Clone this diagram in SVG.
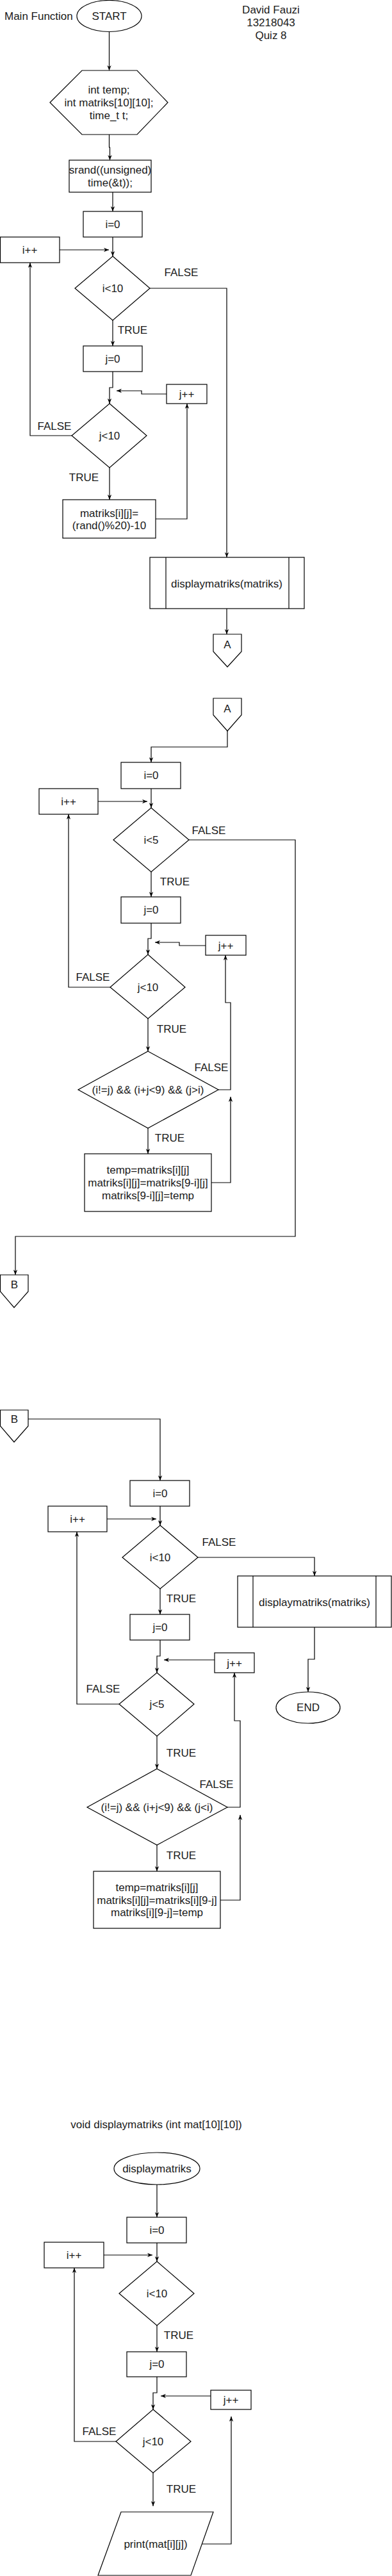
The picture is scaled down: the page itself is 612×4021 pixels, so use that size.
<svg xmlns="http://www.w3.org/2000/svg" width="612" height="4021" viewBox="0 0 612 4021">
<style>
.s{fill:#fff;stroke:#000;stroke-width:1.2}
.i{fill:none;stroke:#000;stroke-width:1.2}
.c{fill:none;stroke:#000;stroke-width:1.2;marker-end:url(#arr)}
text{font-family:"Liberation Sans",Arial,sans-serif;font-size:17px;fill:#1a1a1a;text-anchor:middle}
.l{text-anchor:start}
</style>
<defs>
<marker id="arr" viewBox="0 0 10 10" refX="10" refY="5" markerWidth="8" markerHeight="8" markerUnits="userSpaceOnUse" orient="auto"><path d="M0,1 L10,5 L0,9 L3,5 z" fill="#000"/></marker>
</defs>
<rect width="612" height="4021" fill="#fff"/>

<g id="connectors">
<path class="c" d="M170.5,49.5 V110"/>
<path class="c" d="M170.5,210 V230 H171.5 V250"/>
<path class="c" d="M176,300 V330"/>
<path class="c" d="M176,370 V400"/>
<path class="c" d="M93,390 H170"/>
<path class="c" d="M234,450 H354 V870"/>
<path class="c" d="M176,500 V540"/>
<path class="c" d="M176,580 V605 H171 V630"/>
<path class="c" d="M260,615 H221 V610 H182"/>
<path class="c" d="M112,680 H47 V410"/>
<path class="c" d="M171,730 V780"/>
<path class="c" d="M243,810 H292 V630"/>
<path class="c" d="M354,950 V990"/>
<path class="c" d="M355,1141 V1166 H236 V1190"/>
<path class="c" d="M236,1231 V1261"/>
<path class="c" d="M153,1251 H230"/>
<path class="c" d="M295,1311 H461 V1930 H24 V1990"/>
<path class="c" d="M236,1361 V1400"/>
<path class="c" d="M236,1441 V1465 H231 V1490"/>
<path class="c" d="M321,1476 H280 V1471 H242"/>
<path class="c" d="M172,1541 H107 V1271"/>
<path class="c" d="M231,1590 V1641"/>
<path class="c" d="M341,1701 H360 V1565 H352 V1491"/>
<path class="c" d="M231,1761 V1801"/>
<path class="c" d="M330,1846 H360 V1712"/>
<path class="c" d="M38,2215 H250 V2311"/>
<path class="c" d="M250,2351 V2381"/>
<path class="c" d="M167,2371 H244"/>
<path class="c" d="M309,2431 H491 V2460"/>
<path class="c" d="M491,2540 V2590 H481 V2641"/>
<path class="c" d="M250,2480 V2520"/>
<path class="c" d="M250,2560 V2585 H245 V2611"/>
<path class="c" d="M335,2591 H256"/>
<path class="c" d="M186,2660 H120 V2391"/>
<path class="c" d="M245,2710 V2761"/>
<path class="c" d="M355,2821 H375 V2686 H366 V2611"/>
<path class="c" d="M245,2880 V2921"/>
<path class="c" d="M344,2966 H375 V2833"/>
<path class="c" d="M245,3410 V3461"/>
<path class="c" d="M245,3501 V3530"/>
<path class="c" d="M162,3520 H238"/>
<path class="c" d="M245,3630 V3671"/>
<path class="c" d="M245,3710 V3735 H239 V3761"/>
<path class="c" d="M329,3740 H251"/>
<path class="c" d="M181,3811 H116 V3540"/>
<path class="c" d="M239,3860 V3912"/>
<path class="c" d="M315,3971 H361 V3772"/>
</g>

<g id="labels">
<text x="283" y="431">FALSE</text>
<text x="207" y="521">TRUE</text>
<text x="85" y="671">FALSE</text>
<text x="131" y="751">TRUE</text>
<text x="326" y="1302">FALSE</text>
<text x="273" y="1382">TRUE</text>
<text x="145" y="1531">FALSE</text>
<text x="268" y="1612">TRUE</text>
<text x="330" y="1672">FALSE</text>
<text x="265" y="1782">TRUE</text>
<text x="342" y="2413">FALSE</text>
<text x="283" y="2501">TRUE</text>
<text x="161" y="2642">FALSE</text>
<text x="283" y="2742">TRUE</text>
<text x="338" y="2791">FALSE</text>
<text x="283" y="2902">TRUE</text>
<text x="279" y="3651">TRUE</text>
<text x="155" y="3801">FALSE</text>
<text x="283" y="3891">TRUE</text>
</g>

<g id="title-main"><text class="l" x="7" y="31">Main Function</text></g>
<g id="author"><text x="423" y="21">David Fauzi</text><text x="423" y="41">13218043</text><text x="423" y="61">Quiz 8</text></g>

<g id="start"><ellipse class="s" cx="170.5" cy="25" rx="50.5" ry="24.5"/><text x="170.5" y="31">START</text></g>
<g id="decl"><polygon class="s" points="78,160 128,110 214,110 262,160 214,210 128,210"/><text x="170" y="146">int temp;</text><text x="170" y="166">int matriks[10][10];</text><text x="170" y="186">time_t t;</text></g>
<g id="srand"><rect class="s" x="108" y="250" width="128" height="50"/><text x="172" y="271">srand((unsigned)</text><text x="172" y="291">time(&amp;t));</text></g>
<g id="s1-i0"><rect class="s" x="130" y="330" width="92" height="40"/><text x="176" y="356">i=0</text></g>
<g id="s1-iinc"><rect class="s" x="0.5" y="370" width="92.5" height="40"/><text x="46.5" y="396">i++</text></g>
<g id="s1-icond"><polygon class="s" points="176,400 234,450 176,500 117,450"/><text x="176" y="456">i&lt;10</text></g>
<g id="s1-j0"><rect class="s" x="130" y="540" width="92" height="40"/><text x="176" y="566">j=0</text></g>
<g id="s1-jinc"><rect class="s" x="260" y="600" width="63" height="30"/><text x="291.5" y="621">j++</text></g>
<g id="s1-jcond"><polygon class="s" points="171,630 229,680 171,730 112,680"/><text x="171" y="686">j&lt;10</text></g>
<g id="s1-assign"><rect class="s" x="98" y="780" width="145" height="60"/><text x="170.5" y="807">matriks[i][j]=</text><text x="170.5" y="826">(rand()%20)-10</text></g>
<g id="s1-display"><rect class="s" x="234" y="870" width="241" height="80"/><line class="i" x1="259" y1="870" x2="259" y2="950"/><line class="i" x1="451" y1="870" x2="451" y2="950"/><text x="354" y="917">displaymatriks(matriks)</text></g>
<g id="s1-A"><polygon class="s" points="333,990 377,990 377,1017 355,1041 333,1017"/><text x="355" y="1012">A</text></g>

<g id="s2-A"><polygon class="s" points="333,1090 377,1090 377,1116 355,1141 333,1116"/><text x="355" y="1112">A</text></g>
<g id="s2-i0"><rect class="s" x="189" y="1190" width="93" height="41"/><text x="236" y="1216">i=0</text></g>
<g id="s2-iinc"><rect class="s" x="61" y="1231" width="92" height="40"/><text x="107" y="1257">i++</text></g>
<g id="s2-icond"><polygon class="s" points="236,1261 295,1311 236,1361 177,1311"/><text x="236" y="1317">i&lt;5</text></g>
<g id="s2-j0"><rect class="s" x="189" y="1400" width="93" height="41"/><text x="236" y="1426">j=0</text></g>
<g id="s2-jinc"><rect class="s" x="321" y="1460" width="63" height="31"/><text x="352.5" y="1482">j++</text></g>
<g id="s2-jcond"><polygon class="s" points="231,1490 289,1541 231,1590 172,1541"/><text x="231" y="1547">j&lt;10</text></g>
<g id="s2-cond"><polygon class="s" points="231,1641 341,1701 231,1761 122,1701"/><text x="231" y="1707">(i!=j) &amp;&amp; (i+j&lt;9) &amp;&amp; (j&gt;i)</text></g>
<g id="s2-swap"><rect class="s" x="132" y="1801" width="198" height="90"/><text x="231" y="1832">temp=matriks[i][j]</text><text x="231" y="1852">matriks[i][j]=matriks[9-i][j]</text><text x="231" y="1872">matriks[9-i][j]=temp</text></g>
<g id="s2-B"><polygon class="s" points="0.5,1990 44,1990 44,2016 22,2041 0.5,2016"/><text x="22.5" y="2011">B</text></g>

<g id="s3-B"><polygon class="s" points="0.5,2201 44,2201 44,2226 22,2251 0.5,2226"/><text x="22.5" y="2221">B</text></g>
<g id="s3-i0"><rect class="s" x="203" y="2311" width="93" height="40"/><text x="250" y="2337">i=0</text></g>
<g id="s3-iinc"><rect class="s" x="75" y="2351" width="92" height="40"/><text x="121" y="2377">i++</text></g>
<g id="s3-icond"><polygon class="s" points="250,2381 309,2431 250,2480 191,2431"/><text x="250" y="2437">i&lt;10</text></g>
<g id="s3-display"><rect class="s" x="371" y="2460" width="240" height="80"/><line class="i" x1="395" y1="2460" x2="395" y2="2540"/><line class="i" x1="587" y1="2460" x2="587" y2="2540"/><text x="491" y="2507">displaymatriks(matriks)</text></g>
<g id="end"><ellipse class="s" cx="481" cy="2665.5" rx="50" ry="24.5"/><text x="481" y="2671">END</text></g>
<g id="s3-j0"><rect class="s" x="203" y="2520" width="93" height="40"/><text x="250" y="2546">j=0</text></g>
<g id="s3-jinc"><rect class="s" x="335" y="2580" width="62" height="31"/><text x="366" y="2602">j++</text></g>
<g id="s3-jcond"><polygon class="s" points="245,2611 303,2660 245,2710 186,2660"/><text x="245" y="2666">j&lt;5</text></g>
<g id="s3-cond"><polygon class="s" points="245,2761 355,2821 245,2880 136,2821"/><text x="245" y="2827">(i!=j) &amp;&amp; (i+j&lt;9) &amp;&amp; (j&lt;i)</text></g>
<g id="s3-swap"><rect class="s" x="146" y="2921" width="198" height="89"/><text x="245" y="2952">temp=matriks[i][j]</text><text x="245" y="2972">matriks[i][j]=matriks[i][9-j]</text><text x="245" y="2991">matriks[i][9-j]=temp</text></g>

<g id="title-display"><text x="244" y="3322">void displaymatriks (int mat[10][10])</text></g>
<g id="s4-start"><ellipse class="s" cx="245" cy="3385" rx="67" ry="25"/><text x="245" y="3391">displaymatriks</text></g>
<g id="s4-i0"><rect class="s" x="198" y="3461" width="93" height="40"/><text x="245" y="3487">i=0</text></g>
<g id="s4-iinc"><rect class="s" x="69" y="3500" width="93" height="40"/><text x="115.5" y="3526">i++</text></g>
<g id="s4-icond"><polygon class="s" points="245,3530 303,3580 245,3630 186,3580"/><text x="245" y="3586">i&lt;10</text></g>
<g id="s4-j0"><rect class="s" x="198" y="3671" width="93" height="39"/><text x="245" y="3696">j=0</text></g>
<g id="s4-jinc"><rect class="s" x="329" y="3731" width="63" height="30"/><text x="360.5" y="3752">j++</text></g>
<g id="s4-jcond"><polygon class="s" points="239,3761 298,3811 239,3860 181,3811"/><text x="239" y="3817">j&lt;10</text></g>
<g id="s4-print"><polygon class="s" points="189,3921 333,3921 298,4020 153,4020"/><text x="243" y="3977">print(mat[i][j])</text></g>
</svg>
